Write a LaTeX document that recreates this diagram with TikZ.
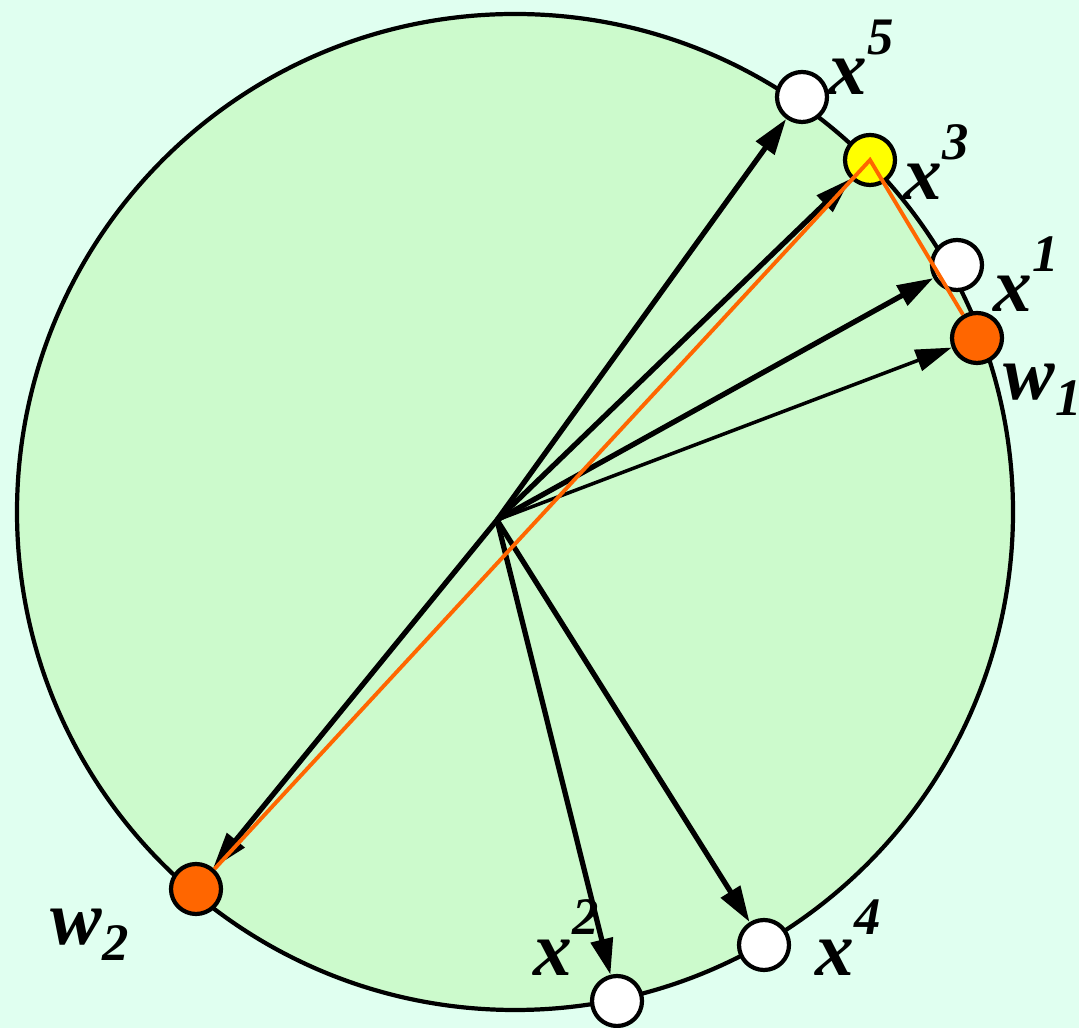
\documentclass[tikz,border=0pt]{standalone}
\usepackage{fontspec}
\setmainfont{Liberation Serif}
\usepackage{xcolor}
\usetikzlibrary{positioning,arrows.meta}

\definecolor{bgmint}{RGB}{224,255,240}
\definecolor{discgreen}{RGB}{204,250,204}
\definecolor{winorange}{RGB}{255,102,0}
\definecolor{hotyellow}{RGB}{255,255,0}

\newcommand{\supx}[1]{\raisebox{1.15ex}{\fontsize{15}{15}\selectfont #1}}
\newcommand{\subx}[1]{\raisebox{-0.45ex}{\fontsize{15}{15}\selectfont #1}}

\begin{document}
\begin{tikzpicture}[x=0.1mm,y=-0.1mm,>={Triangle[length=3.6mm,width=2.2mm]},
  pt/.style={circle,draw,line width=1.2pt,minimum size=5mm,inner sep=0pt,fill=white},
  vec/.style={->,line width=1.5pt},
  lbl/.style={anchor=base west,inner sep=0pt,font=\fontsize{22}{26}\selectfont\bfseries\itshape}]

  % page and sphere
  \fill[bgmint] (0,0) rectangle (1079,1028);
  \useasboundingbox (0,0) rectangle (1079,1028);
  \draw[fill=discgreen,line width=1.2pt] (515,512) circle[radius=4.98cm];

  % patterns and weights on the sphere
  \coordinate (o) at (497,520);
  \node[pt] (x5) at (802,97) {};
  \node[pt,fill=hotyellow] (x3) at (870,160) {};
  \node[pt] (x1) at (957,265) {};
  \node[pt,fill=winorange] (w1) at (977,338) {};
  \node[pt,fill=winorange] (w2) at (196,889) {};
  \node[pt] (x2) at (617,1001) {};
  \node[pt] (x4) at (764,945) {};

  % vectors from the centre
  \foreach \p in {x5,x3,x1,x2,x4,w2}
    \draw[vec] (o) -- (\p);
  \draw[vec,line width=1pt] (o) -- (w1);

  % winner moves
  \draw[winorange,line width=1.1pt] (w2) -- (x3.center) -- (w1);

  % labels
  \node[lbl] (lx5) at (828,95) {x\supx{5}};
  \node[lbl] (lx3) at (903,200) {x\supx{3}};
  \node[lbl] (lx1) at (993,312) {x\supx{1}};
  \node[lbl] (lw1) at (1003,400) {w\subx{1}};
  \node[lbl] (lw2) at (50,945) {w\subx{2}};
  \node[lbl] (lx2) at (533,975) {x\supx{2}};
  \node[lbl] (lx4) at (815,975) {x\supx{4}};

\end{tikzpicture}
\end{document}
